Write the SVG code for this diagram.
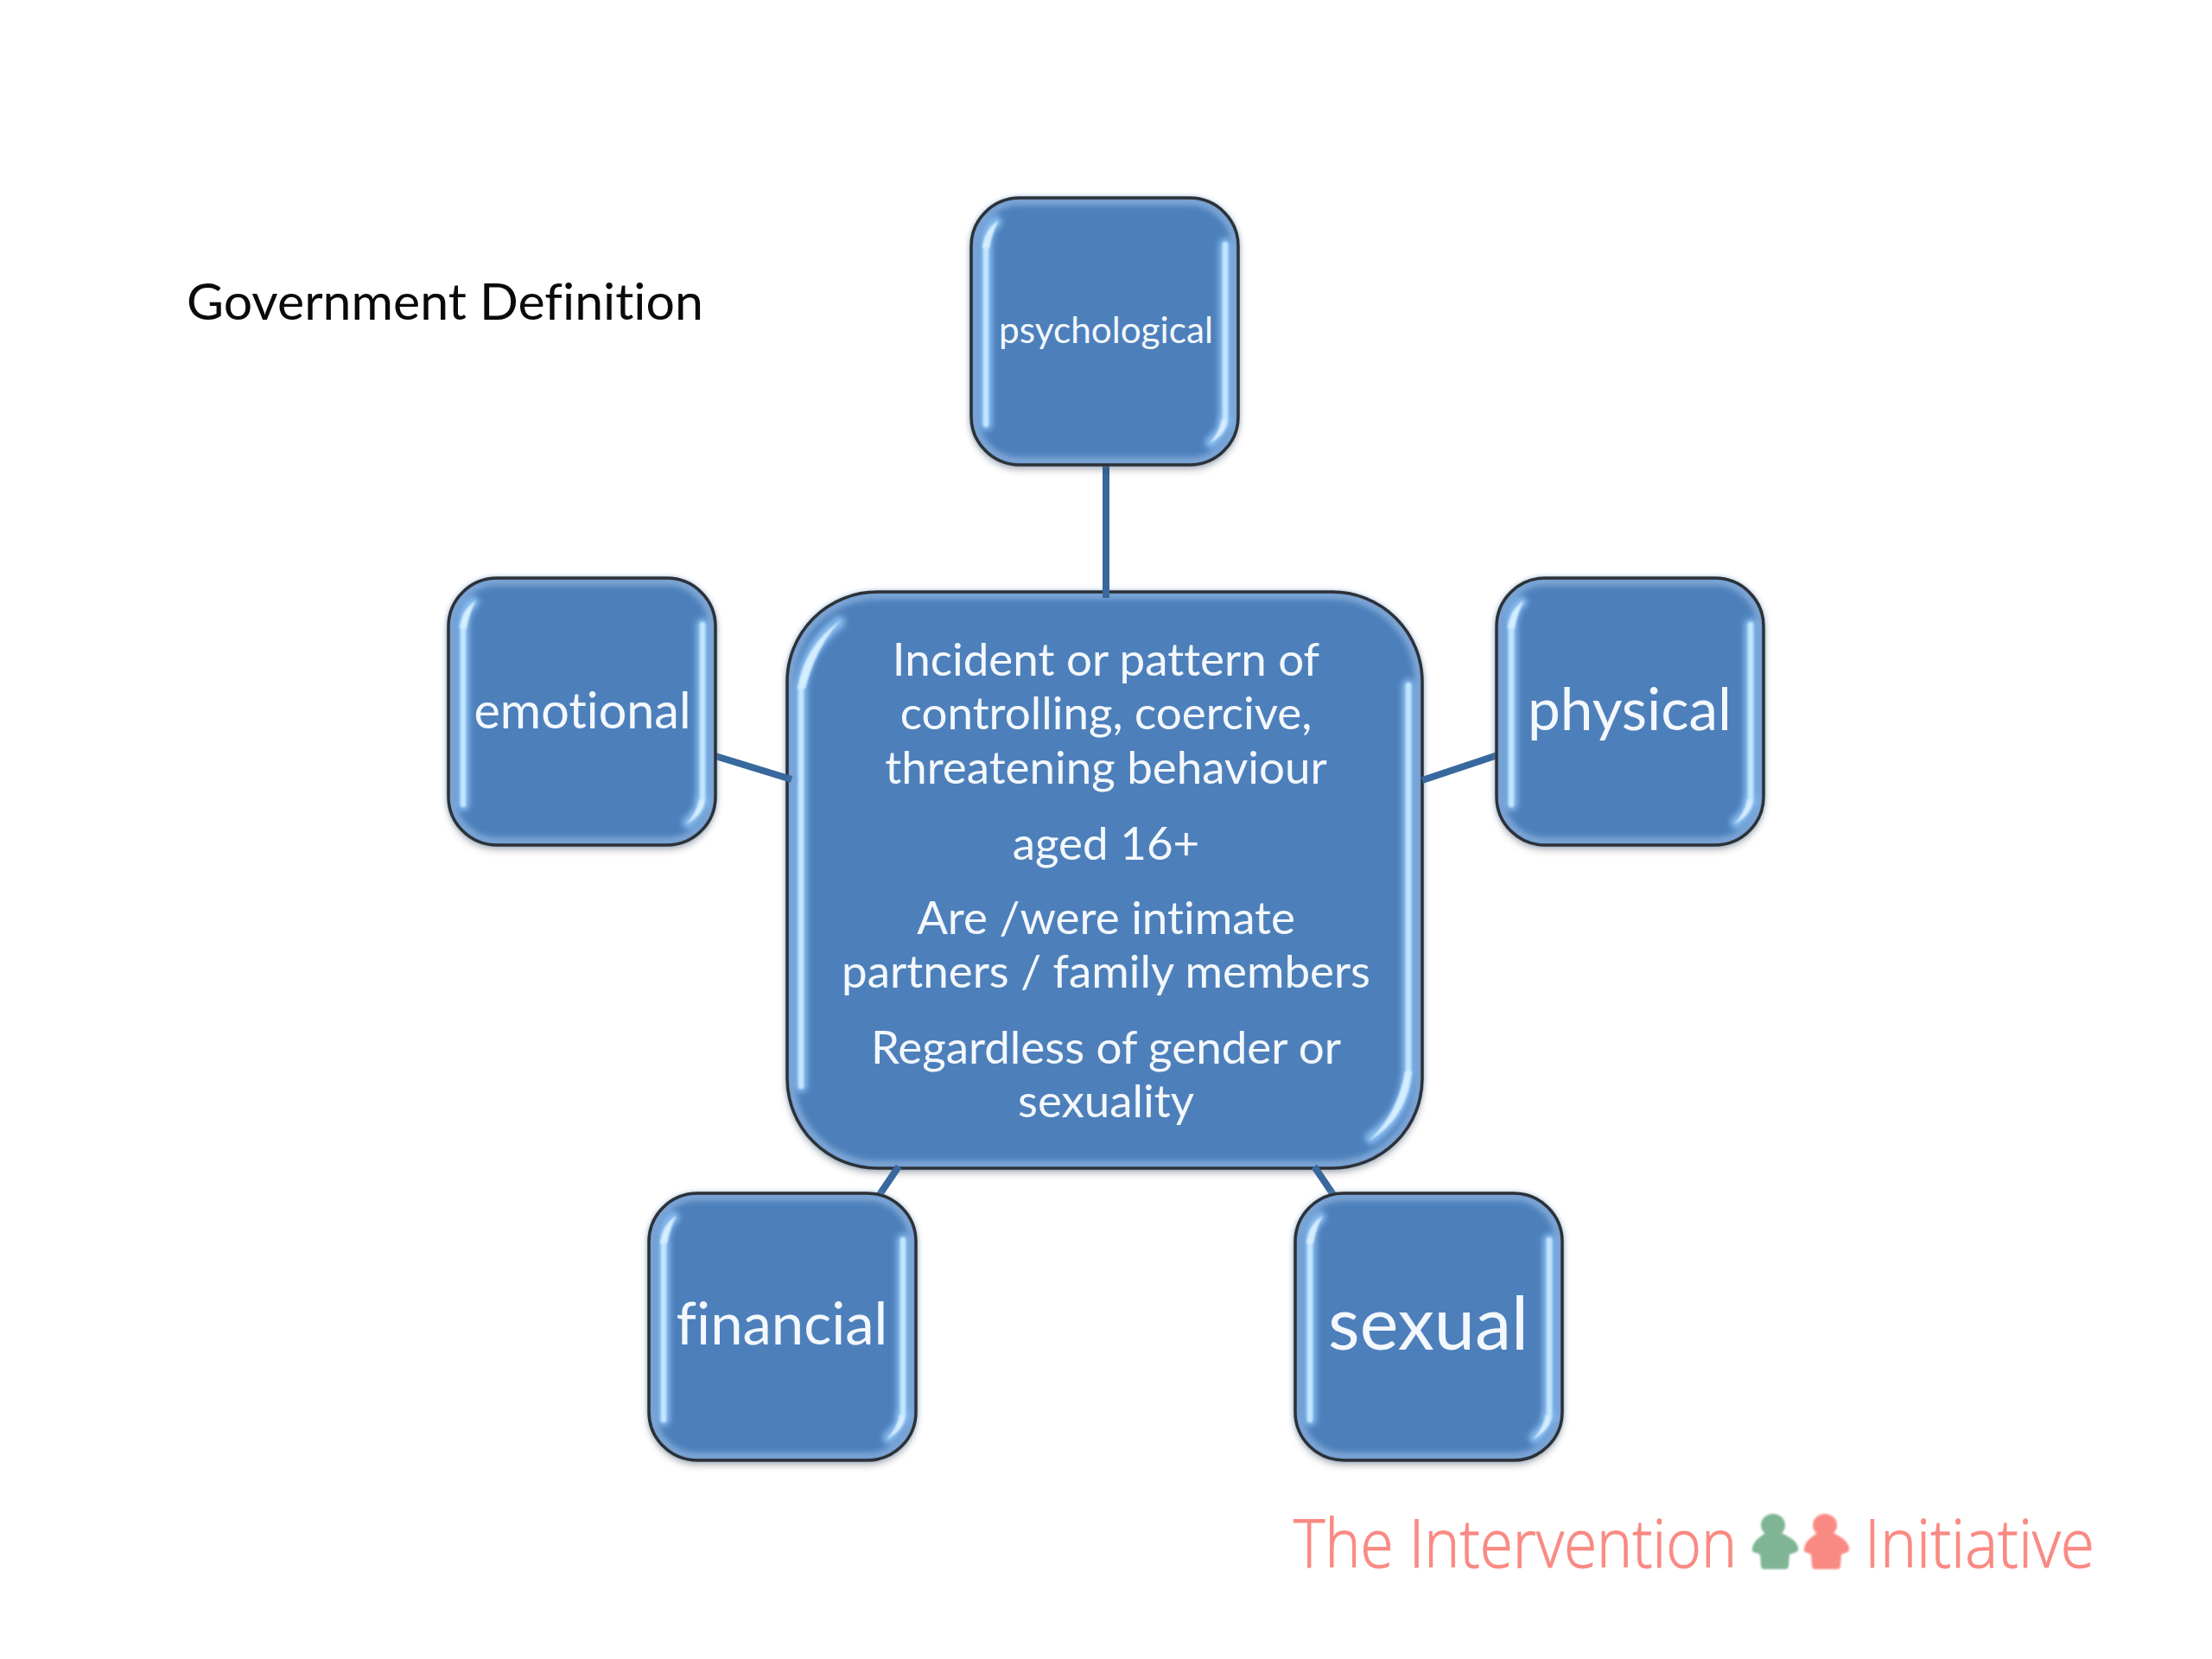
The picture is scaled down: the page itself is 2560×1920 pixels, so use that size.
<svg xmlns="http://www.w3.org/2000/svg" width="2560" height="1920" viewBox="0 0 2560 1920">
<style>
.fill{fill:#4e80bb}
.edge{fill:none;stroke:#80a8d8;stroke-width:9;filter:url(#b3)}
.line{fill:none;stroke:#2c3136;stroke-width:3.5}
.glow{fill:none;stroke:#84b8ec;stroke-width:15;stroke-linecap:round;filter:url(#b3)}
.hl{fill:none;stroke:#c2e6ff;stroke-width:6.5;stroke-linecap:round;filter:url(#b1)}
.cr{fill:#d4eeff;filter:url(#b1)}
text{font-family:Lato,"Open Sans",sans-serif;fill:#f4f8fc;text-anchor:middle;font-variant-ligatures:none}
.conn{stroke:#38689d;stroke-width:8;fill:none}
text.logo{font-family:"Open Sans",sans-serif;font-weight:300;fill:#f98a83;text-anchor:start;font-size:78px;stroke:#f98a83;stroke-width:1}
text.title{fill:#0a0a0a;text-anchor:start;font-size:59px}
</style>
<defs>
<filter id="b1" filterUnits="userSpaceOnUse" x="-100" y="-100" width="2800" height="2200"><feGaussianBlur stdDeviation="1.2"/></filter>
<filter id="b3" filterUnits="userSpaceOnUse" x="-100" y="-100" width="2800" height="2200"><feGaussianBlur stdDeviation="3"/></filter>
<filter id="sh" x="-10%" y="-10%" width="120%" height="120%"><feDropShadow dx="0" dy="5" stdDeviation="5" flood-color="#000" flood-opacity=".3"/></filter>
<g id="box">
<rect class="fill" width="309" height="309" rx="56" filter="url(#sh)"/>
<rect class="edge" x="4" y="4" width="301" height="301" rx="52"/>
<path class="glow" d="M17 262V52Q18 36 28 28"/>
<path class="glow" d="M294 54V258"/>
<path class="glow" d="M294 258Q291 272 278 283"/>
<path class="hl" d="M17 262V56"/>
<path class="hl" d="M294 54V256"/>
<path class="cr" d="M13 58Q15 36 32 26Q25 38 21 58Z"/>
<path class="cr" d="M297 258Q295 274 275 285Q287 272 290 256Z"/>
<rect class="line" width="309" height="309" rx="56"/>
</g>
</defs>
<rect width="2560" height="1920" fill="#fff"/>
<g id="center" transform="translate(911 685)">
<rect class="fill" width="735" height="667" rx="104" filter="url(#sh)"/>
<rect class="edge" x="4" y="4" width="727" height="659" rx="100"/>
<path class="glow" d="M16 572V108Q24 62 60 35"/>
<path class="glow" d="M719 108V555Q716 605 676 632"/>
<path class="hl" d="M16 572V112"/>
<path class="hl" d="M719 108V555"/>
<path class="cr" d="M12 112Q20 62 62 33Q34 62 21 112Z"/>
<path class="cr" d="M723 555Q718 610 672 636Q706 606 715 555Z"/>
<rect class="line" width="735" height="667" rx="104"/>
<g font-size="52.9">
<text x="369" y="97">Incident or pattern of</text>
<text x="369" y="159">controlling, coercive,</text>
<text x="369" y="222">threatening behaviour</text>
<text x="369" y="310">aged 16+</text>
<text x="369" y="396">Are /were intimate</text>
<text x="369" y="458">partners / family members</text>
<text x="369" y="546">Regardless of gender or</text>
<text x="369" y="608">sexuality</text>
</g>
</g>
<g id="connectors">
<path class="conn" d="M1280 536V692"/>
<path class="conn" d="M828 875L916 902"/>
<path class="conn" d="M1646 903L1733 874"/>
<path class="conn" d="M1040 1350L1017 1384"/>
<path class="conn" d="M1521 1350L1544 1384"/>
</g>
<g id="psychological" transform="translate(1124 229)"><use href="#box"/><text x="156" y="168" font-size="42.3">psychological</text></g>
<g id="emotional" transform="translate(519 669)"><use href="#box"/><text x="155" y="174" font-size="57.5">emotional</text></g>
<g id="physical" transform="translate(1732 669)"><use href="#box"/><text x="154" y="176" font-size="67.5">physical</text></g>
<g id="financial" transform="translate(751 1381)"><use href="#box"/><text x="154" y="175" font-size="67">financial</text></g>
<g id="sexual" transform="translate(1499 1381)"><use href="#box"/><text x="154" y="181" font-size="84.5">sexual</text></g>
<g id="title"><text class="title" x="216" y="370">Government Definition</text></g>
<g id="logo">
<text class="logo" x="1497" y="1814" textLength="513" lengthAdjust="spacingAndGlyphs">The Intervention</text>
<text class="logo" x="2158" y="1814" textLength="266" lengthAdjust="spacingAndGlyphs">Initiative</text>
<g fill="#7fb595" filter="url(#b1)">
<ellipse cx="2052" cy="1765" rx="14" ry="13"/>
<path d="M2043 1774C2036 1780 2030 1782 2028 1792Q2027 1797 2032 1797L2037 1799L2038 1812Q2038 1816 2042 1816H2066Q2070 1816 2070 1812L2071 1799L2077 1797Q2082 1796 2081 1791C2079 1782 2070 1779 2062 1774Z"/>
</g>
<g fill="#f98a83" filter="url(#b1)">
<ellipse cx="2112" cy="1765" rx="14" ry="13"/>
<path d="M2103 1774C2096 1780 2090 1782 2088 1792Q2087 1797 2092 1797L2096 1799L2097 1812Q2097 1816 2101 1816H2126Q2130 1816 2130 1812L2131 1799L2136 1797Q2141 1796 2140 1791C2138 1782 2130 1779 2122 1774Z"/>
</g>
</g>
</svg>
